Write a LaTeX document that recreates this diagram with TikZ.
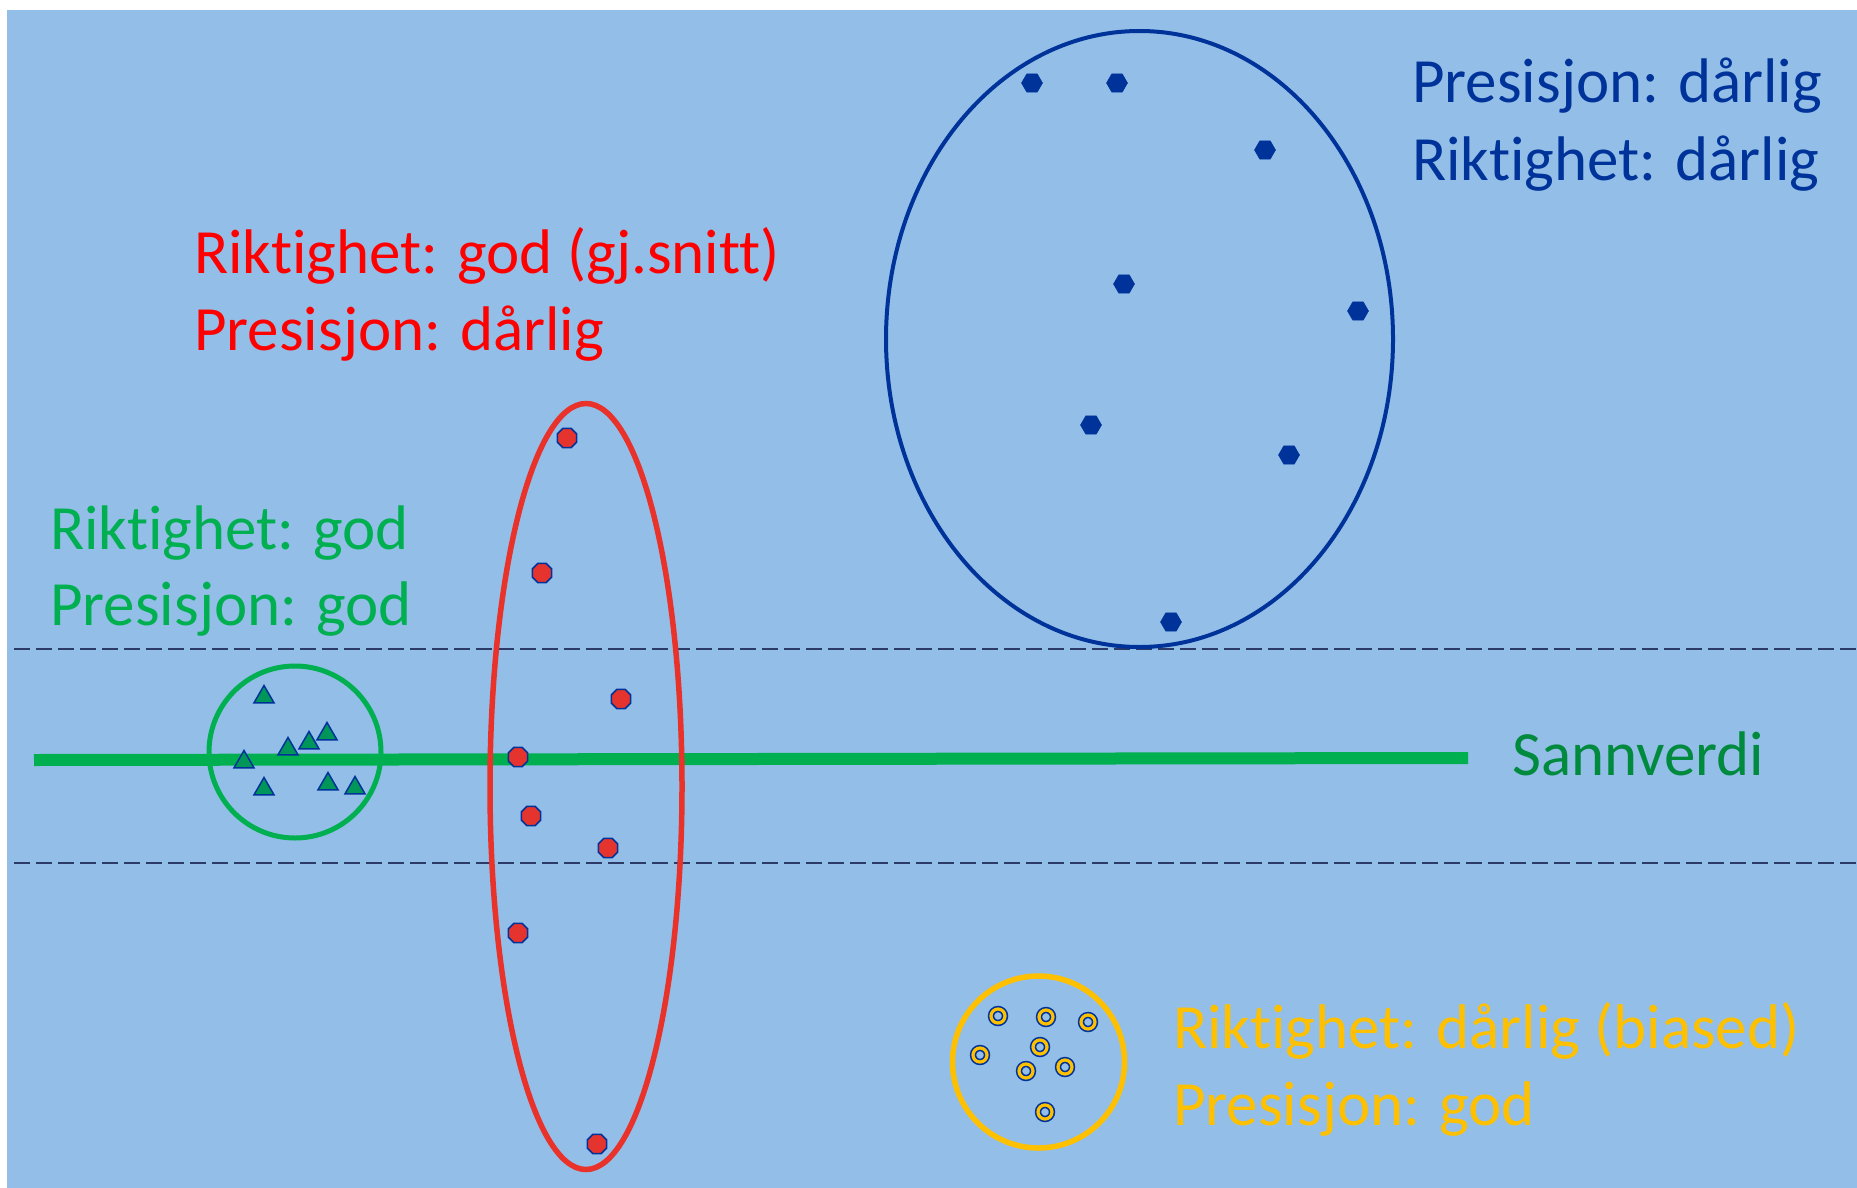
\documentclass[tikz,border=0pt]{standalone}
\usepackage{fontspec}
\setmainfont{Carlito}[Ligatures=NoCommon]
\usetikzlibrary{shapes.geometric}

\definecolor{panel}{HTML}{93BEE8}
\definecolor{navyblue}{HTML}{003399}
\definecolor{guideline}{HTML}{2B3A67}
\definecolor{officegreen}{HTML}{00B050}
\definecolor{darkgreen}{HTML}{008A3E}
\definecolor{markgreen}{HTML}{00965A}
\definecolor{brightred}{HTML}{FF0000}
\definecolor{ellred}{HTML}{E8322A}
\definecolor{markred}{HTML}{E5332E}
\definecolor{amber}{HTML}{FFC000}

\tikzset{
  label/.style={anchor=base west, inner sep=0pt, font=\fontsize{63}{77}\selectfont},
  guide/.style={draw=guideline, line width=1.5pt, dash pattern=on 16pt off 6pt},
  truth/.style={draw=officegreen, line width=12pt},
  trimark/.style={regular polygon, regular polygon sides=3, minimum size=23pt, inner sep=0pt,
                  fill=markgreen, draw=navyblue, line width=1.5pt},
  hexmark/.style={regular polygon, regular polygon sides=6, minimum size=21pt, inner sep=0pt,
                  fill=navyblue, draw=navyblue, line width=0.5pt},
  octmark/.style={regular polygon, regular polygon sides=8, minimum size=21pt, inner sep=0pt,
                  fill=markred, draw=navyblue, line width=1.5pt},
  ringmark/.style={circle, minimum size=14pt, inner sep=0pt, draw=navyblue,
                   double=amber, double distance=3.2pt, line width=1.6pt},
}

\begin{document}
\begin{tikzpicture}[x=1pt,y=-1pt]
\useasboundingbox (0,0) rectangle (1857,1188);
\fill[white] (0,0) rectangle (1857,1188);
\fill[panel] (7,10) rectangle (1857,1188);

% tolerance band around the true value
\coordinate (bandTopL) at (14,649);
\coordinate (bandTopR) at (1857,649);
\coordinate (bandBotL) at (14,863);
\coordinate (bandBotR) at (1857,863);
\draw[guide] (bandTopL) -- (bandTopR);
\draw[guide] (bandBotL) -- (bandBotR);

% true value line
\coordinate (trueL) at (34,760);
\coordinate (trueR) at (1468,758);
\draw[truth] (trueL) -- (trueR);
\node[label, text=darkgreen] (sann) at (1512,775) {Sannverdi};

% cluster outlines
\draw[officegreen, line width=5pt] (295,752) circle [radius=86];
\draw[ellred, line width=5.5pt] (586,786.5) ellipse [x radius=96, y radius=383];
\draw[navyblue, line width=4pt] (1139.5,339) ellipse [x radius=253.5, y radius=308];
\draw[amber, line width=5.5pt] (1038.5,1062) circle [radius=86];

% good accuracy, good precision
\node[trimark] (t1) at (264,697) {};
\node[trimark] (t2) at (288,749) {};
\node[trimark] (t3) at (309,743) {};
\node[trimark] (t4) at (327,734) {};
\node[trimark] (t5) at (244,762) {};
\node[trimark] (t6) at (264,789) {};
\node[trimark] (t7) at (328,784) {};
\node[trimark] (t8) at (355,788) {};

% good accuracy on average, poor precision
\node[octmark] (r1) at (567,438) {};
\node[octmark] (r2) at (542,573) {};
\node[octmark] (r3) at (621,699) {};
\node[octmark] (r4) at (518,757) {};
\node[octmark] (r5) at (531,816) {};
\node[octmark] (r6) at (608,848) {};
\node[octmark] (r7) at (518,933) {};
\node[octmark] (r8) at (597,1144) {};

% poor accuracy, poor precision
\node[hexmark] (b1) at (1032,83) {};
\node[hexmark] (b2) at (1117,83) {};
\node[hexmark] (b3) at (1265,150) {};
\node[hexmark] (b4) at (1124,284) {};
\node[hexmark] (b5) at (1358,311) {};
\node[hexmark] (b6) at (1091,425) {};
\node[hexmark] (b7) at (1289,455) {};
\node[hexmark] (b8) at (1171,622) {};

% biased but precise
\node[ringmark] (y1) at (998,1016) {};
\node[ringmark] (y2) at (1046,1017) {};
\node[ringmark] (y3) at (1088,1022) {};
\node[ringmark] (y4) at (980,1055) {};
\node[ringmark] (y5) at (1040,1047) {};
\node[ringmark] (y6) at (1026,1071) {};
\node[ringmark] (y7) at (1065,1067) {};
\node[ringmark] (y8) at (1045,1112) {};

% captions
\node[label, text=navyblue] (bluePre) at (1412,103) {Presisjon: dårlig};
\node[label, text=navyblue] (blueRik) at (1412,180) {Riktighet: dårlig};
\node[label, text=brightred] (redRik) at (194,273) {Riktighet: god (gj.snitt)};
\node[label, text=brightred] (redPre) at (194,350) {Presisjon: dårlig};
\node[label, text=officegreen] (grnRik) at (50,549) {Riktighet: god};
\node[label, text=officegreen] (grnPre) at (50,625) {Presisjon: god};
\node[label, text=amber] (ambRik) at (1173,1048) {Riktighet: dårlig (biased)};
\node[label, text=amber] (ambPre) at (1173,1125) {Presisjon: god};
\end{tikzpicture}
\end{document}
